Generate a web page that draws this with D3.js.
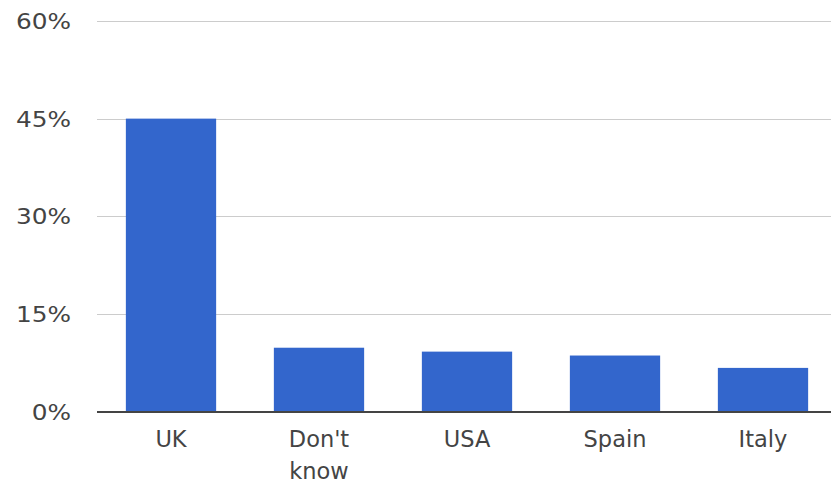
<!DOCTYPE html>
<html>
<head>
<meta charset="utf-8">
<script src="https://cdn.jsdelivr.net/npm/d3@7"></script>
<style>
  body { margin: 0; background: #fff; }
  text { font-family: "DejaVu Sans", Verdana, sans-serif; fill: #444; }
</style>
</head>
<body>
<div class="chart"></div>
<script>
// Chart data
var categories = ["UK", "Don't know", "USA", "Spain", "Italy"];
var values = [45, 9.8, 9.2, 8.6, 6.7];
var yTicks = [0, 15, 30, 45, 60];

var svgWidth = 831;
var svgHeight = 484;

var svg = d3.select(".chart")
    .append("svg")
    .attr("width", svgWidth)
    .attr("height", svgHeight);

// Scales
var xScale = d3.scaleBand()
    .domain(categories)
    .range([97, 837])
    .paddingInner(0.39)
    .paddingOuter(0.195);

var yScale = d3.scaleLinear()
    .domain([0, 60])
    .range([411.5, 21]);

// Gridlines
svg.append("g")
    .selectAll("line")
    .data(yTicks.slice(1))
    .enter()
    .append("line")
    .attr("x1", 97)
    .attr("x2", svgWidth)
    .attr("y1", function(d) { return Math.round(yScale(d)) + 0.5; })
    .attr("y2", function(d) { return Math.round(yScale(d)) + 0.5; })
    .attr("stroke", "#cccccc")
    .attr("stroke-width", 1);

// Y axis labels
var leftAxis = d3.axisLeft(yScale)
    .tickValues(yTicks)
    .tickSize(0)
    .tickPadding(0)
    .tickFormat(function(d) { return d + "%"; });

var yAxis = svg.append("g")
    .attr("transform", "translate(71,1)")
    .call(leftAxis);
yAxis.select(".domain").remove();
// the reference labels are a bit wider than DejaVu, stretch them slightly
yAxis.selectAll("text")
    .style("font-size", "21px")
    .style("font-family", "\"DejaVu Sans\", Verdana, sans-serif")
    .attr("fill", "#444")
    .attr("transform", "scale(1.18,1)");

// Bars
svg.append("g")
    .selectAll("rect")
    .data(values)
    .enter()
    .append("rect")
    .attr("x", function(d, i) { return xScale(categories[i]); })
    .attr("y", function(d) { return yScale(d); })
    .attr("width", xScale.bandwidth())
    .attr("height", function(d) { return yScale(0) - yScale(d); })
    .attr("fill", "#3366cc");

// Baseline
svg.append("line")
    .attr("x1", 97)
    .attr("x2", svgWidth)
    .attr("y1", yScale(0) + 0.5)
    .attr("y2", yScale(0) + 0.5)
    .attr("stroke", "#444")
    .attr("stroke-width", 2);

// Category labels (wrap on space when needed)
var labels = svg.append("g")
    .selectAll("text")
    .data(categories)
    .enter()
    .append("text")
    .attr("text-anchor", "middle")
    .style("font-size", "22.5px")
    .attr("x", function(d) { return xScale(d) + xScale.bandwidth() / 2; })
    .attr("y", 447);

labels.each(function(d) {
    var words = d === "Don't know" ? ["Don't", "know"] : [d];
    var t = d3.select(this);
    words.forEach(function(w, i) {
        t.append("tspan")
            .attr("x", xScale(d) + xScale.bandwidth() / 2)
            .attr("dy", i === 0 ? 0 : 32)
            .text(w);
    });
});
</script>
</body>
</html>
